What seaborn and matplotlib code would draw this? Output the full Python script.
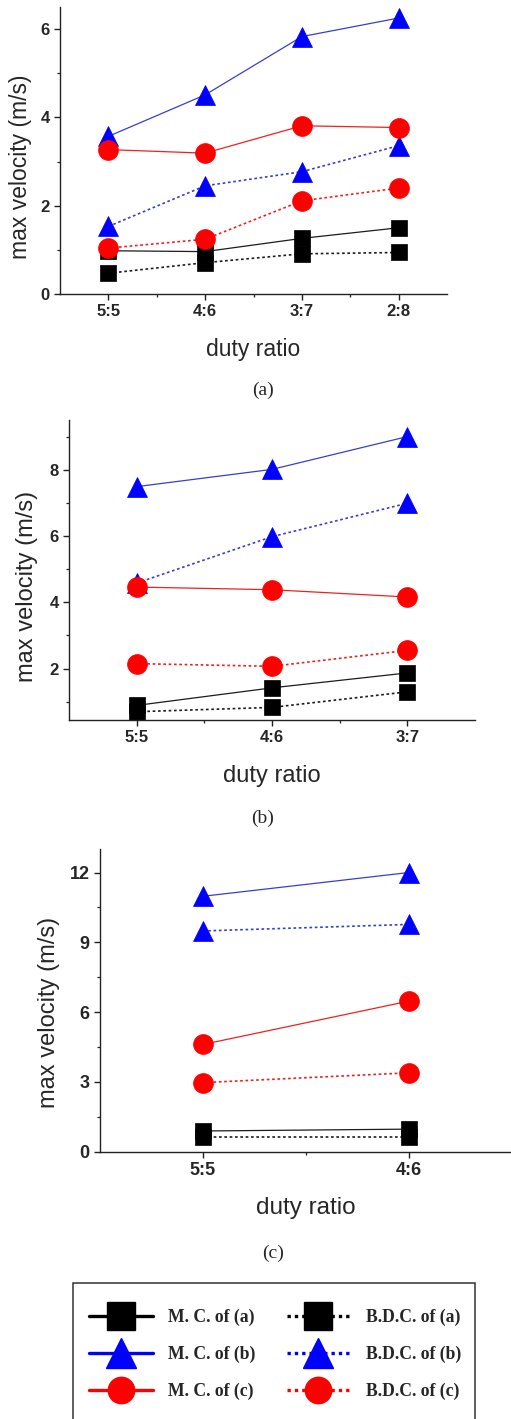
import numpy as np
import pandas as pd
import matplotlib
matplotlib.use("Agg")
import matplotlib.pyplot as plt
from matplotlib.lines import Line2D
from matplotlib.patches import Rectangle
from matplotlib.ticker import FixedLocator
import seaborn as sns

# ---------------- data ----------------
CATS_A = ["5:5", "4:6", "3:7", "2:8"]
A_MC_A = [0.98, 0.96, 1.26, 1.50]
A_BDC_A = [0.47, 0.71, 0.91, 0.94]
A_MC_B = [3.57, 4.51, 5.83, 6.25]
A_BDC_B = [1.53, 2.45, 2.77, 3.36]
A_MC_C = [3.27, 3.19, 3.81, 3.77]
A_BDC_C = [1.04, 1.24, 2.11, 2.40]

CATS_B = ["5:5", "4:6", "3:7"]
B_MC_A = [0.89, 1.42, 1.87]
B_BDC_A = [0.70, 0.83, 1.30]
B_MC_B = [7.49, 8.01, 9.00]
B_BDC_B = [4.58, 5.98, 6.99]
B_MC_C = [4.46, 4.38, 4.16]
B_BDC_C = [2.15, 2.07, 2.55]

CATS_C = ["5:5", "4:6"]
C_MC_A = [0.89, 0.97]
C_BDC_A = [0.62, 0.62]
C_MC_B = [10.98, 12.00]
C_BDC_B = [9.49, 9.77]
C_MC_C = [4.61, 6.47]
C_BDC_C = [2.97, 3.39]

SERIES_KEYS = ["MC_A", "BDC_A", "MC_B", "BDC_B", "MC_C", "BDC_C"]
LEGEND_LABELS = {
    "MC_A": "M. C. of (a)", "BDC_A": "B.D.C. of (a)",
    "MC_B": "M. C. of (b)", "BDC_B": "B.D.C. of (b)",
    "MC_C": "M. C. of (c)", "BDC_C": "B.D.C. of (c)",
}
Y_LABEL = "max velocity (m/s)"
X_LABEL = "duty ratio"
CAPTIONS = ["(a)", "(b)", "(c)"]

PANELS = [
    dict(cats=CATS_A, series=dict(MC_A=A_MC_A, BDC_A=A_BDC_A, MC_B=A_MC_B,
                                  BDC_B=A_BDC_B, MC_C=A_MC_C, BDC_C=A_BDC_C),
         ylim=(0, 6.5), yticks=[0, 2, 4, 6], yminor=[1, 3, 5]),
    dict(cats=CATS_B, series=dict(MC_A=B_MC_A, BDC_A=B_BDC_A, MC_B=B_MC_B,
                                  BDC_B=B_BDC_B, MC_C=B_MC_C, BDC_C=B_BDC_C),
         ylim=(0.45, 9.5), yticks=[2, 4, 6, 8], yminor=[1, 3, 5, 7, 9]),
    dict(cats=CATS_C, series=dict(MC_A=C_MC_A, BDC_A=C_BDC_A, MC_B=C_MC_B,
                                  BDC_B=C_BDC_B, MC_C=C_MC_C, BDC_C=C_BDC_C),
         ylim=(0, 13), yticks=[0, 3, 6, 9, 12], yminor=[1.5, 4.5, 7.5, 10.5]),
]

# ---------------- styles ----------------
DOT = (0, (1.6, 1.6))
STYLE = {
    "MC_A": dict(line="#1c1c1c", face="#000000", marker="s", ms=12.2, ls="-", lw=0.9),
    "BDC_A": dict(line="#1c1c1c", face="#000000", marker="s", ms=12.2, ls=DOT, lw=1.2),
    "MC_B": dict(line="#3c3cd2", face="#0000ff", marker="^", ms=15.0, ls="-", lw=0.9),
    "BDC_B": dict(line="#3c3cd2", face="#0000ff", marker="^", ms=15.0, ls=DOT, lw=1.2),
    "MC_C": dict(line="#f02020", face="#ff0000", marker="o", ms=14.3, ls="-", lw=0.9),
    "BDC_C": dict(line="#f02020", face="#ff0000", marker="o", ms=14.3, ls=DOT, lw=1.2),
}
LEG_MS = {"s": 19.5, "^": 21.5, "o": 19.0}

sns.set_style("ticks")
plt.rcParams["font.family"] = ["Liberation Sans", "DejaVu Sans"]

W, H = 511, 1419
fig = plt.figure(figsize=(W / 100, H / 100), dpi=100)


def ax_at(l, t, r, b):
    return fig.add_axes([l / W, 1 - b / H, (r - l) / W, (b - t) / H])


AX_BOXES = [(60, 7, 447, 294), (69, 420, 475, 720), (100, 849.3, 511.4, 1151.7)]
YLABEL_X = [-0.072, -0.076, -0.097]
YLABEL_SHIFT = [16, 16, 12]
XLABEL_TOP = [338, 765, 1197]
CAPTION_POS = [(263, 390), (263, 818), (273, 1253)]
YLABEL_SIZE = [16.5, 17, 17]
XLABEL_SIZE = [16.5, 17, 17.5]
TICK_SIZE = [12, 12, 13]

for i, p in enumerate(PANELS):
    l, t, r, b = AX_BOXES[i]
    ax = ax_at(l, t, r, b)
    cats = p["cats"]
    pos = np.arange(len(cats))
    for key in SERIES_KEYS:
        st = STYLE[key]
        df = pd.DataFrame({"x": pos, "y": p["series"][key]})
        sns.lineplot(data=df, x="x", y="y", ax=ax, color=st["line"],
                     linestyle=st["ls"], linewidth=st["lw"], marker=st["marker"],
                     markersize=st["ms"], markerfacecolor=st["face"],
                     markeredgecolor=st["face"], markeredgewidth=0.5)
    ax.set_xlim(-0.5, len(cats) - 0.5)
    ax.set_ylim(*p["ylim"])
    ax.set_xticks(pos)
    ax.set_xticklabels(cats)
    ax.xaxis.set_minor_locator(FixedLocator(np.arange(0.5, len(cats) - 1, 1.0)))
    ax.set_yticks(p["yticks"])
    ax.yaxis.set_minor_locator(FixedLocator(p["yminor"]))
    sns.despine(ax=ax)
    for s in ("left", "bottom"):
        ax.spines[s].set_linewidth(1.0)
        ax.spines[s].set_color("#222222")
    ax.tick_params(which="major", direction="out", length=4.5, width=1.0,
                   labelsize=TICK_SIZE[i], pad=3, color="#222222")
    ax.tick_params(which="minor", direction="out", length=2.5, width=0.9,
                   color="#222222")
    for lbl in ax.get_xticklabels() + ax.get_yticklabels():
        lbl.set_fontweight("bold")
    ax.set_xlabel(X_LABEL, fontsize=XLABEL_SIZE[i])
    ax.set_ylabel(Y_LABEL, fontsize=YLABEL_SIZE[i])
    hpx = b - t
    ax.yaxis.set_label_coords(YLABEL_X[i], 0.5 - YLABEL_SHIFT[i] / hpx)
    ax.xaxis.set_label_coords(0.5, -(XLABEL_TOP[i] - b) / hpx)
    ax.set_facecolor("white")
    cx, cy = CAPTION_POS[i]
    fig.text(cx / W, 1 - cy / H, CAPTIONS[i], ha="center", va="center",
             family="Liberation Serif", fontsize=14)

# ---------------- legend ----------------
order = ["MC_A", "MC_B", "MC_C", "BDC_A", "BDC_B", "BDC_C"]
handles = []
for key in order:
    st = STYLE[key]
    handles.append(Line2D([], [], color=st["face"], lw=2.4,
                          linestyle="-" if st["ls"] == "-" else (0, (1, 1.2)),
                          marker=st["marker"], markersize=LEG_MS[st["marker"]],
                          markerfacecolor=st["face"], markeredgecolor=st["face"]))
fig.legend(handles, [LEGEND_LABELS[k] for k in order], ncol=2, loc="upper left",
           bbox_to_anchor=(89 / W, 1 - 1309 / H), frameon=False, borderpad=0,
           borderaxespad=0, handlelength=3.6, handletextpad=0.9,
           columnspacing=1.75, labelspacing=1.12, numpoints=1,
           prop=dict(family="Liberation Serif", weight="bold", size=12.7))
fig.add_artist(Rectangle((72.7 / W, 1 - 1440 / H), (475 - 72.7) / W,
                         (1440 - 1283.3) / H, transform=fig.transFigure,
                         fill=False, lw=1.1, ec="#333333", clip_on=False))

fig.savefig("out.png", dpi=100, facecolor="white")
